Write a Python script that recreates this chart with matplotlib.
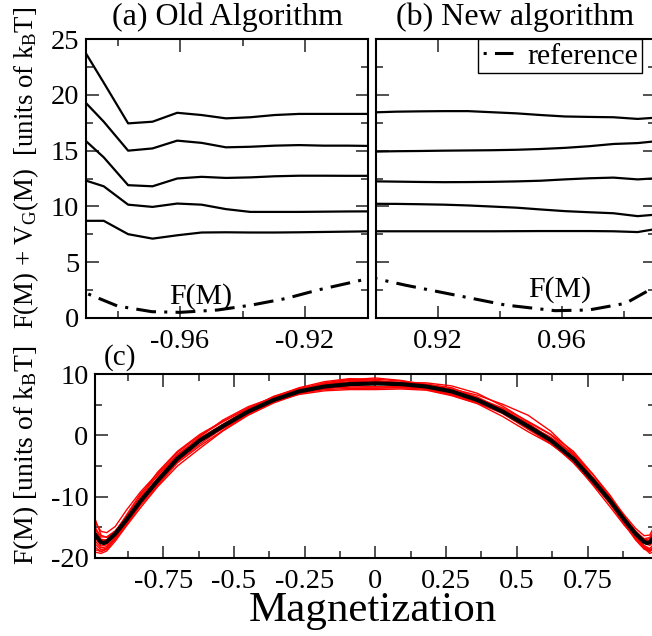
import matplotlib
matplotlib.use("Agg")
import matplotlib.pyplot as plt
from matplotlib.ticker import MultipleLocator, FixedLocator, FuncFormatter

# ---------------- data ----------------
# panel (a): old algorithm, F(M)+V_G(M) near M=-1
M_old = [-0.9922, -0.9844, -0.9766, -0.9688, -0.9609, -0.9531, -0.9453,
         -0.9375, -0.9297, -0.9219, -0.9141, -0.9063, -0.8984]
old_1 = [24.7, 21.1, 17.45, 17.6, 18.4, 18.2, 17.9, 18.0, 18.2, 18.3, 18.3, 18.3, 18.3]
old_2 = [19.9, 17.6, 15.0, 15.2, 15.9, 15.7, 15.3, 15.35, 15.45, 15.5, 15.45, 15.45, 15.42]
old_3 = [16.4, 14.4, 11.9, 11.8, 12.5, 12.65, 12.55, 12.6, 12.7, 12.75, 12.75, 12.74, 12.74]
old_4 = [12.5, 11.8, 10.15, 9.95, 10.25, 10.15, 9.75, 9.5, 9.5, 9.5, 9.52, 9.54, 9.55]
old_5 = [8.7, 8.7, 7.5, 7.1, 7.4, 7.65, 7.67, 7.65, 7.65, 7.67, 7.7, 7.73, 7.76]

# panel (b): new algorithm near M=+1
M_new = [0.8984, 0.9063, 0.9141, 0.9219, 0.9297, 0.9375, 0.9453,
         0.9531, 0.9609, 0.9688, 0.9766, 0.9844, 0.9922]
new_1 = [18.43, 18.5, 18.53, 18.55, 18.55, 18.45, 18.35, 18.2, 18.07, 18.03, 18.0, 17.85, 18.0]
new_2 = [14.91, 14.95, 14.97, 15.0, 15.02, 15.04, 15.08, 15.15, 15.25, 15.4, 15.6, 15.68, 15.9]
new_3 = [12.25, 12.22, 12.19, 12.17, 12.18, 12.2, 12.24, 12.3, 12.42, 12.52, 12.58, 12.42, 12.55]
new_4 = [10.23, 10.22, 10.19, 10.15, 10.08, 9.98, 9.88, 9.72, 9.57, 9.47, 9.38, 9.12, 9.3]
new_5 = [7.76, 7.76, 7.76, 7.76, 7.76, 7.76, 7.77, 7.78, 7.78, 7.78, 7.76, 7.69, 8.05]

# reference F(M) (shifted) in the top panels
M_refL = [-0.99, -0.98, -0.969, -0.96, -0.948, -0.937, -0.926, -0.916, -0.901, -0.89]
F_refL = [2.2, 1.05, 0.54, 0.48, 0.69, 1.14, 1.73, 2.48, 3.43, 4.2]
M_refR = [0.89, 0.8998, 0.9095, 0.9256, 0.9417, 0.9578, 0.9686, 0.9805, 0.9891, 0.995]
F_refR = [4.2, 3.52, 2.92, 2.03, 1.14, 0.63, 0.69, 1.29, 2.63, 3.6]

# panel (c): full free energy, reference (black) and runs (red)
M_ref = [-0.99, -0.97, -0.96, -0.95, -0.92, -0.88, -0.83, -0.77, -0.70, -0.62, -0.54,
         -0.45, -0.36, -0.27, -0.18, -0.09, 0.0, 0.09, 0.18, 0.27, 0.36, 0.45, 0.54,
         0.62, 0.70, 0.77, 0.83, 0.88, 0.92, 0.95, 0.96, 0.97, 0.99]
F_ref = [-16.3, -17.5, -17.6, -17.4, -16.1, -13.8, -10.7, -7.4, -3.8, -0.8, 1.5,
         3.9, 5.8, 7.2, 8.0, 8.4, 8.5, 8.4, 8.0, 7.2, 5.8, 3.9, 1.5,
         -0.8, -3.8, -7.4, -10.7, -13.8, -16.1, -17.4, -17.6, -17.5, -16.3]

M_run = [-0.99, -0.97, -0.95, -0.92, -0.88, -0.83, -0.77, -0.70, -0.62, -0.54, -0.45,
         -0.36, -0.27, -0.18, -0.09, 0.0, 0.09, 0.18, 0.27, 0.36, 0.45, 0.54, 0.62,
         0.70, 0.77, 0.83, 0.88, 0.92, 0.95, 0.97, 0.99]
run_1 = [-14.3, -15.7, -15.9, -14.9, -12.2, -9.2, -6.2, -2.8, 0.0, 2.2, 4.5, 6.3, 7.8, 8.8, 9.3, 9.0,
         8.6, 8.0, 7.0, 5.8, 4.2, 1.7, -0.8, -4.0, -7.7, -11.2, -14.4, -16.9, -18.4, -18.8, -17.8]
run_2 = [-19.1, -19.3, -18.9, -17.3, -14.8, -11.8, -8.4, -5.0, -2.1, 0.7, 3.3, 5.3, 6.8, 7.7, 7.9, 7.9,
         8.0, 7.8, 7.2, 6.1, 4.5, 2.3, 0.2, -2.6, -6.4, -10.1, -13.3, -15.7, -17.1, -16.9, -15.3]
run_3 = [-15.1, -16.6, -16.6, -15.6, -13.5, -10.1, -6.5, -3.1, -0.4, 1.8, 4.3, 6.4, 7.7, 8.3, 8.5, 8.5,
         8.1, 7.5, 6.8, 5.6, 3.9, 1.7, -0.3, -3.2, -7.0, -10.5, -13.8, -16.4, -18.0, -18.5, -17.5]
run_4 = [-17.8, -18.7, -18.4, -16.9, -14.4, -11.2, -7.7, -4.3, -1.4, 1.2, 3.8, 6.0, 7.6, 8.6, 9.2, 9.2,
         8.9, 8.3, 7.6, 6.6, 5.1, 3.3, 0.7, -2.9, -6.9, -10.5, -13.9, -16.6, -18.3, -18.9, -18.1]
run_5 = [-15.8, -17.2, -17.2, -16.1, -14.0, -11.1, -8.0, -4.2, -1.0, 1.1, 3.4, 5.5, 7.1, 8.2, 8.8, 8.8,
         8.5, 7.7, 6.6, 5.3, 3.6, 1.1, -1.4, -4.2, -7.6, -10.7, -13.6, -15.7, -16.9, -16.7, -15.1]
run_6 = [-16.8, -18.1, -17.9, -16.4, -13.8, -10.4, -7.0, -3.6, -0.8, 1.6, 4.2, 6.0, 7.2, 7.8, 8.1, 8.0,
         7.8, 7.6, 7.0, 5.9, 4.3, 2.0, -0.5, -3.8, -7.7, -11.2, -14.5, -17.1, -18.6, -19.0, -18.3]
run_7 = [-13.8, -16.3, -16.7, -15.7, -13.2, -9.8, -6.0, -2.6, 0.2, 2.3, 4.4, 6.1, 7.4, 8.4, 9.1, 9.4,
         9.0, 8.3, 7.3, 5.7, 3.6, 1.0, -1.1, -3.7, -6.9, -10.0, -13.0, -15.2, -16.4, -16.3, -14.5]
run_8 = [-18.3, -19.0, -18.6, -17.0, -14.6, -11.4, -8.2, -4.5, -1.7, 0.8, 3.5, 5.6, 6.9, 7.5, 7.7, 7.7,
         7.8, 7.8, 7.4, 6.3, 4.2, 1.5, -1.0, -4.3, -8.2, -11.7, -14.7, -16.8, -18.2, -18.7, -18.5]
run_9 = [-16.3, -17.5, -17.3, -15.8, -13.0, -9.5, -6.6, -3.3, -0.2, 2.5, 4.7, 6.2, 7.5, 8.5, 8.7, 8.7,
         8.7, 8.6, 8.1, 6.9, 4.8, 2.2, 0.1, -3.2, -7.1, -10.6, -13.5, -15.6, -17.1, -17.3, -15.8]
run_10 = [-17.3, -18.4, -18.2, -16.7, -14.2, -10.9, -7.6, -3.9, -0.6, 1.5, 3.7, 5.5, 6.7, 7.3, 7.5, 7.5,
          7.6, 7.4, 6.5, 5.2, 3.1, 0.6, -1.4, -4.1, -7.4, -10.4, -13.6, -16.1, -17.6, -18.0, -17.1]
run_11 = [-15.3, -17.0, -17.1, -15.9, -13.7, -10.8, -7.1, -3.2, -0.5, 1.7, 4.0, 5.8, 7.4, 8.5, 9.0, 8.9,
          8.6, 8.4, 7.8, 6.2, 4.0, 1.7, -0.4, -3.0, -6.4, -9.8, -13.2, -15.8, -17.3, -17.5, -15.9]
run_12 = [-18.7, -19.0, -18.5, -16.7, -14.1, -10.7, -7.6, -4.1, -0.9, 1.3, 3.9, 5.9, 7.0, 7.6, 8.2, 8.5,
          8.2, 7.6, 6.7, 5.5, 3.8, 1.5, -1.2, -4.5, -8.0, -11.0, -14.1, -16.5, -18.4, -19.3, -18.9]

old_curves = [old_1, old_2, old_3, old_4, old_5]
new_curves = [new_1, new_2, new_3, new_4, new_5]
runs = [run_1, run_2, run_3, run_4, run_5, run_6, run_7, run_8, run_9, run_10, run_11, run_12]

xticks_c = [-0.75, -0.5, -0.25, 0, 0.25, 0.5, 0.75]

# ---------------- style ----------------
plt.rcParams.update({
    "font.family": ["Liberation Serif", "DejaVu Serif"],
    "mathtext.fontset": "custom",
    "mathtext.rm": "Liberation Serif",
    "mathtext.it": "Liberation Serif:italic",
    "axes.unicode_minus": False,
})

W, H = 652, 636
fig = plt.figure(figsize=(W / 100, H / 100), dpi=100)

def px(l, t, r, b):
    return [l / W, 1 - b / H, (r - l) / W, (b - t) / H]

axA = fig.add_axes(px(86.25, 39.3, 367.5, 317.7))
axB = fig.add_axes(px(376, 39.3, 655, 317.7))
axC = fig.add_axes(px(95.4, 374.3, 655.4, 557.7))

TICK = 20.5
for ax in (axA, axB, axC):
    for s in ax.spines.values():
        s.set_linewidth(1.5)
    ax.tick_params(which="both", direction="in", top=True, right=True,
                   labelsize=TICK, width=1.1, color="#222222")
    ax.tick_params(which="major", length=9)
    ax.tick_params(which="minor", length=5)

refstyle = dict(color="black", lw=2.2, linestyle=(8.5, (6.5, 2.7, 1.0, 2.7)))

# panel (a)
for c in old_curves:
    axA.plot(M_old, c, color="black", lw=1.6)
axA.plot(M_refL, F_refL, **refstyle)
axA.set_xlim(-0.99, -0.90)
axA.set_ylim(0, 25)
axA.xaxis.set_major_locator(FixedLocator([-0.96, -0.92]))
axA.xaxis.set_minor_locator(FixedLocator([-0.98, -0.94, -0.90]))
axA.xaxis.set_major_formatter(FuncFormatter(lambda v, p: f"{v:.2f}"))
axA.yaxis.set_major_locator(MultipleLocator(5))
axA.yaxis.set_minor_locator(MultipleLocator(2.5))
axA.tick_params(axis="x", pad=8)
axA.tick_params(axis="y", pad=5)
axA.text(-0.9533, 1.3, "F(M)", ha="center", va="baseline", fontsize=21.5)

# panel (b)
for c in new_curves:
    axB.plot(M_new, c, color="black", lw=1.6)
axB.plot(M_refR, F_refR, label="reference", **refstyle)
axB.set_xlim(0.90, 0.99)
axB.set_ylim(0, 25)
axB.xaxis.set_major_locator(FixedLocator([0.92, 0.96]))
axB.xaxis.set_minor_locator(FixedLocator([0.90, 0.94, 0.98]))
axB.xaxis.set_major_formatter(FuncFormatter(lambda v, p: f"{v:.2f}"))
axB.yaxis.set_major_locator(MultipleLocator(5))
axB.yaxis.set_minor_locator(MultipleLocator(2.5))
axB.tick_params(axis="y", labelleft=False)
axB.tick_params(axis="x", pad=8)
axB.text(0.9594, 1.85, "F(M)", ha="center", va="baseline", fontsize=21.5)
leg = axB.legend(loc="upper right", bbox_to_anchor=(0.953, 1.0), borderaxespad=0,
                 fontsize=21.5, handlelength=1.05, handletextpad=0.5, borderpad=0.12,
                 fancybox=False, framealpha=1, edgecolor="black")
leg.get_frame().set_linewidth(1.0)

# panel (c)
for r in runs:
    axC.plot(M_run, r, color="red", lw=1.0)
axC.plot(M_ref, F_ref, color="black", lw=3.0)
axC.set_xlim(-0.99, 0.99)
axC.set_ylim(-20, 10)
axC.xaxis.set_major_locator(FixedLocator(xticks_c))
axC.xaxis.set_minor_locator(MultipleLocator(0.125))
axC.xaxis.set_major_formatter(FuncFormatter(lambda v, p: f"{v:g}"))
axC.yaxis.set_major_locator(MultipleLocator(10))
axC.yaxis.set_minor_locator(MultipleLocator(5))
axC.tick_params(axis="x", pad=8)
axC.tick_params(axis="y", pad=5)

# texts
fig.text(227 / W, 1 - 25 / H, "(a) Old Algorithm", ha="center", va="baseline", fontsize=23)
fig.text(515.5 / W, 1 - 25 / H, "(b) New algorithm", ha="center", va="baseline", fontsize=23)
fig.text(104 / W, 1 - 365 / H, "(c)", ha="left", va="baseline", fontsize=21)
fig.text(373 / W, 1 - 621 / H, "Magnetization", ha="center", va="baseline", fontsize=31)
fig.text(26 / W, 1 - 168 / H, r"F(M) + V$_\mathrm{G}$(M)  [units of k$_\mathrm{B}$T]",
         rotation=90, ha="center", va="center", fontsize=19.3)
fig.text(26 / W, 1 - 455 / H, r"F(M) [units of k$_\mathrm{B}$T]",
         rotation=90, ha="center", va="center", fontsize=20)

fig.savefig("out.png", dpi=100)
